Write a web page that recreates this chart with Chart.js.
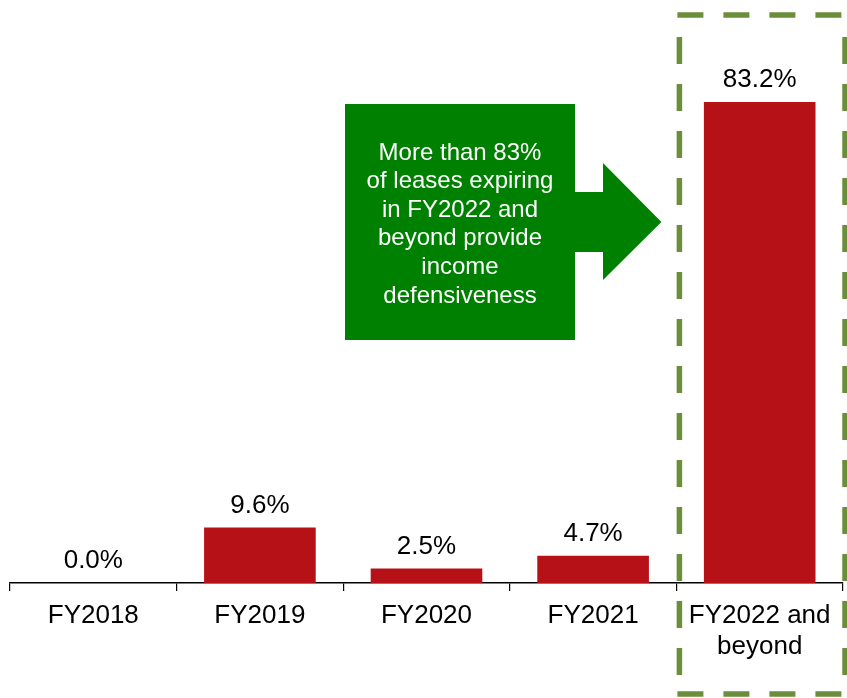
<!DOCTYPE html>
<html>
<head>
<meta charset="utf-8">
<script src="https://cdn.jsdelivr.net/npm/chart.js@4.4.1/dist/chart.umd.min.js"></script>
<style>
  html, body { margin: 0; padding: 0; background: #fff; }
  #wrap { width: 847px; height: 698px; position: relative; }
</style>
</head>
<body>
<div id="wrap"><canvas id="leaseChart"></canvas></div>
<script>
const categories = [['FY2018'], ['FY2019'], ['FY2020'], ['FY2021'], ['FY2022 and', 'beyond']];
const expiryPct = [0.0, 9.6, 2.5, 4.7, 83.2];
const calloutLines = ['More than 83%', 'of leases expiring', 'in FY2022 and', 'beyond provide', 'income', 'defensiveness'];

const FONT = '"Liberation Sans", Arial, sans-serif';
const BAR_RED = '#B71118';
const ARROW_GREEN = '#008000';
const BOX_GREEN = '#6B8E3A';

// value labels above bars
const valueLabels = {
  id: 'valueLabels',
  afterDatasetsDraw(chart) {
    const ctx = chart.ctx;
    const meta = chart.getDatasetMeta(0);
    ctx.save();
    ctx.font = '26px ' + FONT;
    ctx.fillStyle = '#000';
    ctx.textAlign = 'center';
    ctx.textBaseline = 'alphabetic';
    meta.data.forEach((bar, i) => {
      ctx.fillText(expiryPct[i].toFixed(1) + '%', bar.x, bar.y - 15);
    });
    ctx.restore();
  }
};

// green arrow callout + dashed highlight box around last category
const callout = {
  id: 'callout',
  afterDraw(chart) {
    const ctx = chart.ctx;
    const x = chart.scales.x;
    const area = chart.chartArea;
    const half = (x.getPixelForValue(1) - x.getPixelForValue(0)) / 2;

    // dashed box
    const bl = x.getPixelForValue(4) - half + 3;
    const br = area.right + 2;
    const bt = 15, bb = 694;
    ctx.save();
    ctx.strokeStyle = BOX_GREEN;
    ctx.lineWidth = 5.5;
    ctx.setLineDash([26, 20]);
    ctx.beginPath(); ctx.moveTo(bl - 2, bt); ctx.lineTo(br + 2, bt); ctx.stroke();
    ctx.beginPath(); ctx.moveTo(bl - 2, bb); ctx.lineTo(br + 2, bb); ctx.stroke();
    ctx.setLineDash([27, 20]);
    ctx.beginPath(); ctx.moveTo(bl, bt + 22); ctx.lineTo(bl, bb); ctx.stroke();
    ctx.beginPath(); ctx.moveTo(br, bt + 22); ctx.lineTo(br, bb); ctx.stroke();
    ctx.restore();

    // arrow
    const L = 345, R = 575, T = 104, B = 340;
    const shaftR = 603, tip = bl - 18, midY = 222;
    ctx.save();
    ctx.fillStyle = ARROW_GREEN;
    ctx.beginPath();
    ctx.moveTo(L, T);
    ctx.lineTo(R, T);
    ctx.lineTo(R, 192);
    ctx.lineTo(shaftR, 192);
    ctx.lineTo(shaftR, 163);
    ctx.lineTo(tip, midY);
    ctx.lineTo(shaftR, 280);
    ctx.lineTo(shaftR, 252);
    ctx.lineTo(R, 252);
    ctx.lineTo(R, B);
    ctx.lineTo(L, B);
    ctx.closePath();
    ctx.fill();

    ctx.fillStyle = '#fff';
    ctx.font = '24px ' + FONT;
    ctx.textAlign = 'center';
    ctx.textBaseline = 'middle';
    calloutLines.forEach((t, i) => {
      ctx.fillText(t, (L + R) / 2, 153 + i * 28.6);
    });
    ctx.restore();
  }
};

new Chart(document.getElementById('leaseChart'), {
  type: 'bar',
  data: {
    labels: categories,
    datasets: [{
      data: expiryPct,
      backgroundColor: BAR_RED,
      borderWidth: 0,
      categoryPercentage: 1.0,
      barPercentage: 0.67
    }]
  },
  options: {
    responsive: true,
    maintainAspectRatio: false,
    animation: false,
    layout: { padding: { left: 10, right: 4, top: 5, bottom: 0 } },
    plugins: { legend: { display: false }, tooltip: { enabled: false } },
    scales: {
      x: {
        afterFit: (s) => { s.height = 115; },
        border: { display: true, color: '#000', width: 1.5 },
        grid: {
          offset: true,
          drawOnChartArea: false,
          drawTicks: true,
          tickLength: 8,
          color: '#000',
          lineWidth: 1.2
        },
        ticks: {
          color: '#000',
          padding: 9,
          maxRotation: 0,
          autoSkip: false,
          font: { family: FONT, size: 26, lineHeight: 1.2 }
        }
      },
      y: {
        display: false,
        min: 0,
        max: 100
      }
    }
  },
  plugins: [valueLabels, callout]
});
</script>
</body>
</html>
